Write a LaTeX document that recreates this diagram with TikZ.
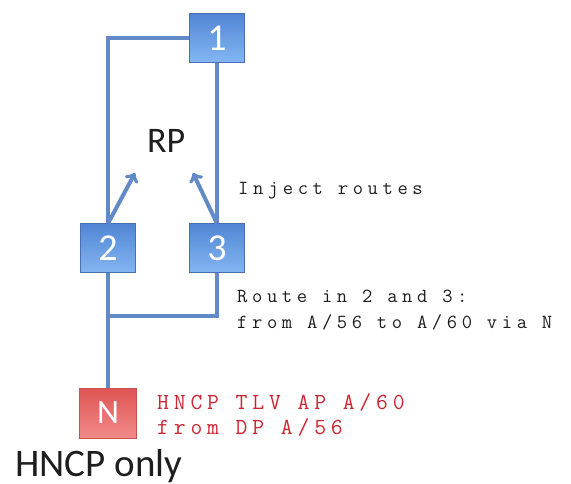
\documentclass[tikz,border=0pt]{standalone}
\usepackage{fontspec}
\usepackage{tikz}
\usetikzlibrary{arrows}
\newfontfamily\calib{Carlito}
\newfontfamily\codefont[LetterSpace=23]{Latin Modern Mono}
\newfontfamily\tlvfont[LetterSpace=21]{Latin Modern Mono}
\definecolor{linkblue}{RGB}{98,138,198}
\definecolor{boxtop}{RGB}{82,134,212}
\definecolor{boxbot}{RGB}{132,182,242}
\definecolor{boxline}{RGB}{74,112,178}
\definecolor{ntop}{RGB}{222,84,84}
\definecolor{nbot}{RGB}{242,138,138}
\definecolor{nline}{RGB}{206,82,82}
\definecolor{codegray}{RGB}{30,30,30}
\definecolor{tlvred}{RGB}{208,36,48}
\tikzset{
  bluebox/.style={draw=boxline, line width=1pt, top color=boxtop, bottom color=boxbot,
    minimum width=55pt, minimum height=49pt, inner sep=0pt, text=white,
    font=\calib\fontsize{38}{40}\selectfont},
  redbox/.style={bluebox, draw=nline, top color=ntop, bottom color=nbot,
    minimum width=57pt, minimum height=50pt, font=\calib\fontsize{34}{36}\selectfont},
  link/.style={draw=linkblue, line width=4pt},
  inject/.style={link, ->},
  code/.style={inner sep=0pt, anchor=base west, align=left, text=codegray,
    font=\codefont\fontsize{20}{26}\selectfont},
  tlv/.style={code, text=tlvred, font=\tlvfont\fontsize{23}{25}\selectfont}
}
\begin{document}
\begin{tikzpicture}[line cap=butt, x=1pt, y=1pt]
            \useasboundingbox (0,0) rectangle (571,-484);
            \node[bluebox] (b1) at (217,-38) {1};
            \node[bluebox] (b2) at (108,-248.5) {2};
            \node[bluebox] (b3) at (217,-248.5) {3};
            \node[redbox] (n) at (108,-413) {N};  %hncp node
            \coordinate (c2) at (108,-316);
            \coordinate (c3) at (217,-316);
            \coordinate (rpl) at (135,-173);
            \coordinate (rpr) at (193,-173);
            \draw[link] (b1.west) -| (b2.north);
            \draw[link] (b1.south) -- (b3.north);
            \draw[link] (b2.south) -- (c2) -- (c3) -- (b3.south);
            \draw[link] (c2) -- (n.north);
            \draw[inject] (b2.north) -- (rpl);
            \draw[inject] (b3.north) -- (rpr);
            \node[inner sep=0pt, anchor=base west, text=codegray, font=\calib\fontsize{36}{38}\selectfont] (rp) at (147,-153) {RP};
            \node[code] (inj) at (238,-195) {Inject routes};
            \node[code] (route) at (237,-328) {Route in 2 and 3:\\from A/56 to A/60 via N};
            \node[tlv] (tlvtext) at (157,-434) {HNCP TLV AP A/60\\from DP A/56};
            \node[inner sep=0pt, anchor=base west, text=codegray, font=\calib\fontsize{39}{41}\selectfont] (only) at (15,-476) {HNCP only};
\end{tikzpicture}
\end{document}
